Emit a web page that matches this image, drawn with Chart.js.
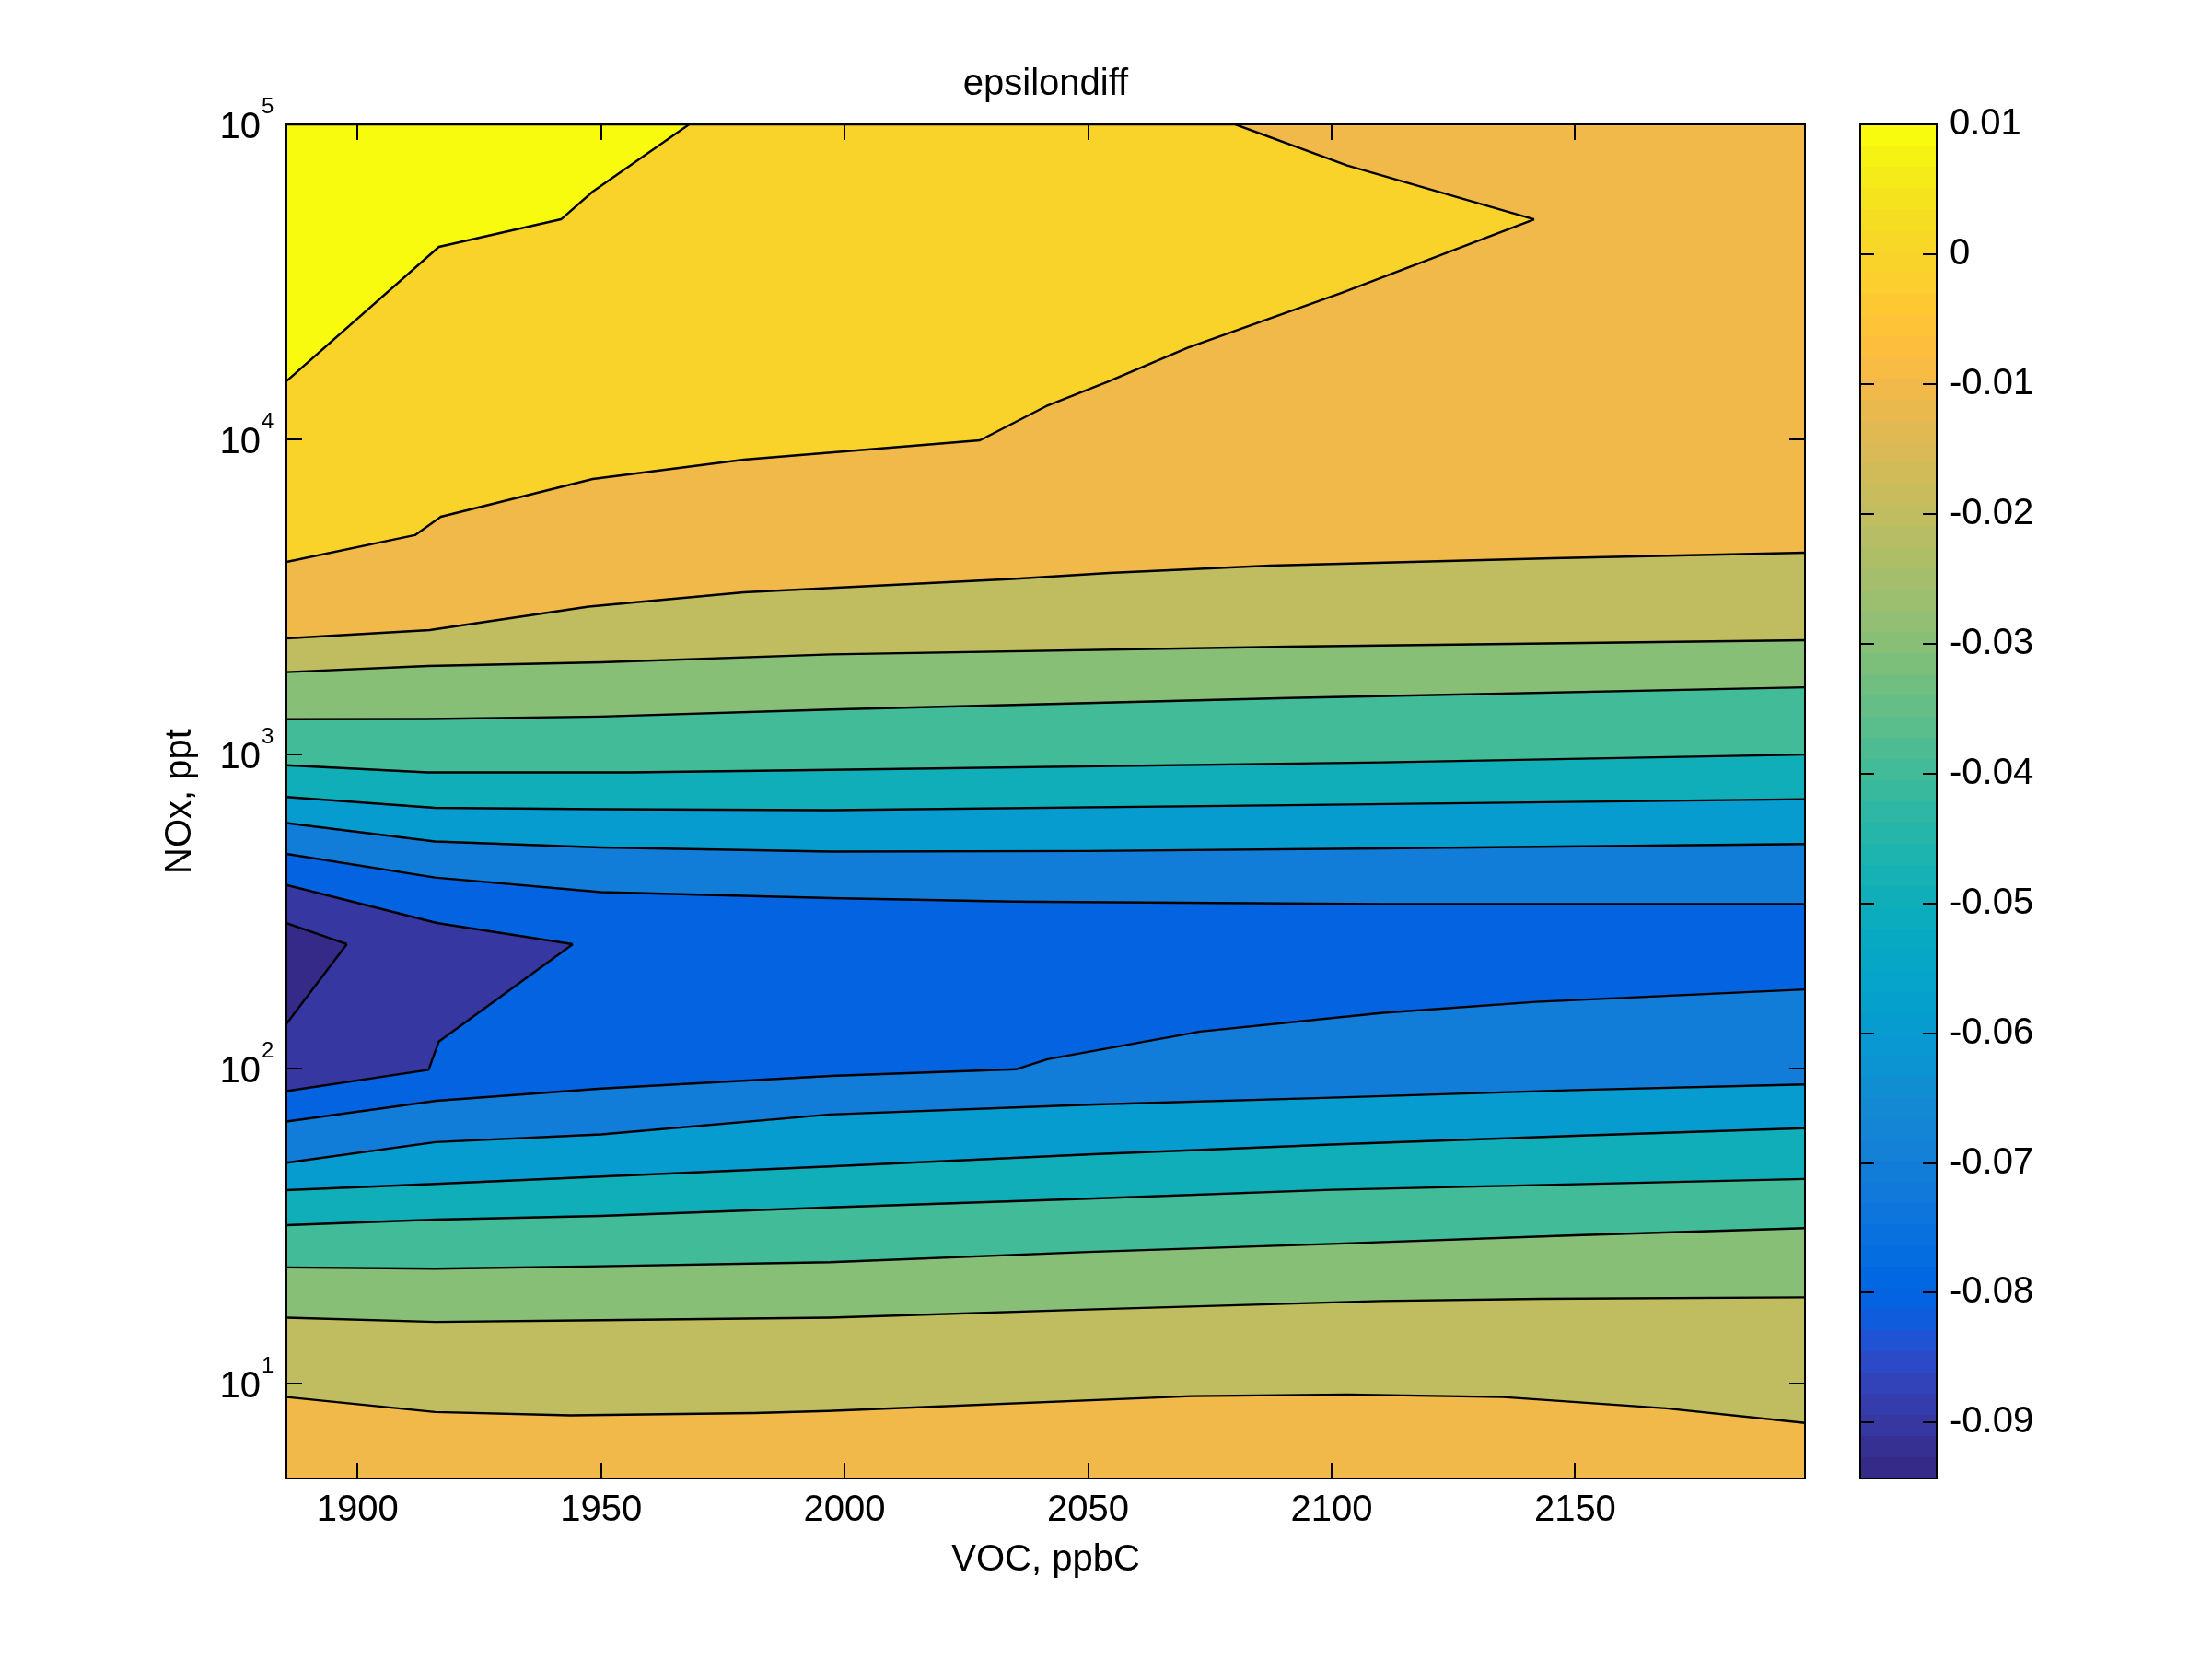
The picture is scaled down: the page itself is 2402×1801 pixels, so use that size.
<!DOCTYPE html>
<html>
<head>
<meta charset="utf-8">
<title>epsilondiff</title>
<script src="https://cdn.jsdelivr.net/npm/chart.js@4.4.1/dist/chart.umd.min.js"></script>
<style>
  html, body { margin: 0; padding: 0; background: #fff; overflow: hidden; }
  #wrap { position: relative; width: 2402px; height: 1801px; }
  #wrap canvas { position: absolute; left: 0; top: 0; }
</style>
</head>
<body>
<div id="wrap">
  <canvas id="contour" width="2402" height="1801"></canvas>
  <canvas id="colorbar" width="2402" height="1801"></canvas>
</div>
<script>
// axis ranges and tick labels
const vocRange = [1885.4, 2197.2];
const noxRange = [5, 100000];
const levelRange = [-0.0943, 0.01];
const vocTicks = [1900, 1950, 2000, 2050, 2100, 2150];
const noxTicks = [10, 100, 1000, 10000, 100000];
const levelTicks = [0.01, 0, -0.01, -0.02, -0.03, -0.04, -0.05, -0.06, -0.07, -0.08, -0.09];

// contour lines, [VOC ppbC, NOx ppt] (bottom to top)
const line1 = [[1885.4, 9.07], [1915.9, 8.13], [1943.7, 7.93], [1981.5, 8.07], [1996.6, 8.19], [2071.3, 9.13], [2103.2, 9.24], [2135.2, 9.07], [2168.7, 8.35], [2197.2, 7.5]];
const line2 = [[1885.4, 16.2], [1916, 15.7], [1950, 15.9], [1997, 16.2], [2050, 17.2], [2110, 18.3], [2143, 18.6], [2197.2, 18.8]];
const line3 = [[1885.4, 23.4], [1916, 23.2], [1950, 23.6], [1997, 24.3], [2050, 26.2], [2100, 27.8], [2150, 29.6], [2197.2, 31.2]];
const line4 = [[1885.4, 31.9], [1916, 33.2], [1950, 34.1], [1997, 36.3], [2050, 38.7], [2100, 41.3], [2150, 43.0], [2197.2, 44.7]];
const line5 = [[1885.4, 41.2], [1916, 43.1], [1950, 45.5], [1997, 49.0], [2050, 53.5], [2100, 57.5], [2150, 61.3], [2197.2, 64.8]];
const line6 = [[1885.4, 50.3], [1916, 58.5], [1950, 61.9], [1997, 71.6], [2050, 76.9], [2100, 81.0], [2150, 85.6], [2197.2, 89.2]];
const line7 = [[1885.4, 68.0], [1916.2, 79.2], [1950, 86.6], [1997.2, 95.0], [2035.2, 99.7], [2041.7, 107.3], [2073, 131.3], [2110.6, 150.7], [2142, 163.2], [2197.2, 178.7]];
const line8 = [[1885.4, 481.7], [1915.9, 405.3], [1950, 364], [1997.2, 348.6], [2034.5, 339.8], [2110.6, 333.7], [2197.2, 333.7]];
const line9 = [[1885.4, 603.8], [1915.9, 527.7], [1950, 505], [1997.2, 490], [2050, 492], [2110.6, 501.6], [2197.2, 518]];
const line10 = [[1885.4, 729.8], [1915.9, 674.8], [1950, 668], [1997.2, 663.1], [2091.2, 687.6], [2197.2, 718.4]];
const line11 = [[1885.4, 921], [1914.4, 874.6], [1955.9, 874.6], [1997.2, 890.7], [2110.6, 940.7], [2197.2, 996.1]];
const line12 = [[1885.4, 1290], [1914.4, 1292], [1950, 1315], [1997.2, 1384], [2091.2, 1507], [2197.2, 1629]];
const line13 = [[1885.4, 1821], [1914.4, 1904], [1950, 1956], [1997.2, 2073], [2091.2, 2194], [2197.2, 2299]];
const line14 = [[1885.4, 2331], [1914.8, 2476], [1947.5, 2940], [1979.3, 3264], [2034.5, 3599], [2054.3, 3760], [2087.4, 3968], [2145.4, 4188], [2197.2, 4362]];
const line15 = [[1885.4, 4076], [1911.8, 4958], [1917.1, 5671], [1948.3, 7473], [1979.3, 8613], [2027.8, 9920], [2041.4, 12730], [2054.3, 15270], [2070.4, 19490], [2102.1, 29150], [2141.6, 49950]];
const goldUpper = [[1885.4, 100000], [2080.2, 100000], [2103.2, 74060], [2141.6, 49950]];
const line16 = [[1885.4, 15270], [1916.7, 40820], [1941.8, 49950], [1948.3, 61150], [1968.1, 100000]];
const purpleUpper = [[1885.4, 383.7], [1916.3, 290.6], [1944.2, 248.9]];
const purpleLower = [[1885.4, 85.0], [1914.6, 99.3], [1916.7, 122.1], [1944.2, 248.9]];
const darkUpper = [[1885.4, 290.1], [1897.8, 248.9]];
const darkLower = [[1885.4, 139.0], [1897.8, 248.9]];

const FONT = '"Liberation Sans", Arial, Helvetica, sans-serif';
const TICK = 17;

// parula, 64 entries
const PARULA = [
  0.2081,0.1663,0.5292, 0.2116,0.1898,0.5777, 0.2123,0.2138,0.6270, 0.2081,0.2386,0.6771,
  0.1959,0.2645,0.7279, 0.1707,0.2919,0.7792, 0.1253,0.3242,0.8303, 0.0591,0.3598,0.8683,
  0.0117,0.3875,0.8820, 0.0060,0.4086,0.8828, 0.0165,0.4266,0.8786, 0.0329,0.4430,0.8720,
  0.0498,0.4586,0.8641, 0.0629,0.4737,0.8554, 0.0723,0.4887,0.8467, 0.0779,0.5040,0.8384,
  0.0793,0.5200,0.8312, 0.0749,0.5375,0.8263, 0.0641,0.5570,0.8240, 0.0488,0.5772,0.8228,
  0.0343,0.5966,0.8199, 0.0265,0.6137,0.8135, 0.0239,0.6287,0.8038, 0.0231,0.6418,0.7913,
  0.0228,0.6535,0.7768, 0.0267,0.6642,0.7607, 0.0384,0.6743,0.7436, 0.0590,0.6838,0.7254,
  0.0843,0.6928,0.7062, 0.1133,0.7015,0.6859, 0.1453,0.7098,0.6646, 0.1801,0.7177,0.6424,
  0.2178,0.7250,0.6193, 0.2586,0.7317,0.5954, 0.3022,0.7376,0.5712, 0.3482,0.7424,0.5473,
  0.3953,0.7459,0.5244, 0.4420,0.7481,0.5033, 0.4871,0.7491,0.4840, 0.5300,0.7491,0.4661,
  0.5709,0.7485,0.4494, 0.6099,0.7473,0.4337, 0.6473,0.7456,0.4188, 0.6834,0.7435,0.4044,
  0.7184,0.7411,0.3905, 0.7525,0.7384,0.3768, 0.7858,0.7356,0.3633, 0.8185,0.7327,0.3498,
  0.8507,0.7299,0.3360, 0.8824,0.7274,0.3217, 0.9139,0.7258,0.3063, 0.9450,0.7261,0.2886,
  0.9739,0.7314,0.2666, 0.9938,0.7455,0.2403, 0.9990,0.7653,0.2164, 0.9955,0.7861,0.1967,
  0.9880,0.8066,0.1794, 0.9789,0.8271,0.1633, 0.9697,0.8481,0.1475, 0.9626,0.8705,0.1309,
  0.9589,0.8949,0.1132, 0.9598,0.9218,0.0948, 0.9661,0.9514,0.0755, 0.9763,0.9831,0.0538
].reduce((out, v, i, arr) => {
  if (i % 3 === 0) out.push(`rgb(${Math.round(v * 255)},${Math.round(arr[i + 1] * 255)},${Math.round(arr[i + 2] * 255)})`);
  return out;
}, []);

function levelColor(v) {
  const t = (v - levelRange[0]) / (levelRange[1] - levelRange[0]);
  return PARULA[Math.max(0, Math.min(63, Math.floor(t * 64)))];
}

// filled bands in painting order, bottom first; level = lower bound of the band
const layers = [
  { id: 'c1', data: line1, fill: 'start', level: -0.01 },
  { id: 'c2', data: line2, fill: 'c1', level: -0.02 },
  { id: 'c3', data: line3, fill: 'c2', level: -0.03 },
  { id: 'c4', data: line4, fill: 'c3', level: -0.04 },
  { id: 'c5', data: line5, fill: 'c4', level: -0.05 },
  { id: 'c6', data: line6, fill: 'c5', level: -0.06 },
  { id: 'c7', data: line7, fill: 'c6', level: -0.07 },
  { id: 'c8', data: line8, fill: 'c7', level: -0.08 },
  { id: 'c9', data: line9, fill: 'c8', level: -0.07 },
  { id: 'c10', data: line10, fill: 'c9', level: -0.06 },
  { id: 'c11', data: line11, fill: 'c10', level: -0.05 },
  { id: 'c12', data: line12, fill: 'c11', level: -0.04 },
  { id: 'c13', data: line13, fill: 'c12', level: -0.03 },
  { id: 'c14', data: line14, fill: 'c13', level: -0.02 },
  { id: 'c14up', data: line14, fill: 'end', level: -0.01, stroke: 0 },
  { id: 'goldTop', data: goldUpper, fill: 'c15', level: 0 },
  { id: 'c15', data: line15 },
  { id: 'c16', data: line16, fill: 'end', level: 0.01 },
  { id: 'purpleTop', data: purpleUpper, fill: 'purpleBot', level: -0.09 },
  { id: 'purpleBot', data: purpleLower },
  { id: 'darkTop', data: darkUpper, fill: 'darkBot', level: levelRange[0] },
  { id: 'darkBot', data: darkLower }
];

// the filler paints the last dataset first, so reverse the list
const ordered = layers.slice().reverse();
const indexOf = {};
ordered.forEach((l, i) => { indexOf[l.id] = i; });

const datasets = ordered.map(l => ({
  label: l.id,
  data: l.data.map(([x, y]) => ({ x, y })),
  borderColor: '#000',
  borderWidth: l.stroke === undefined ? 2.4 : l.stroke,
  borderJoinStyle: 'round',
  backgroundColor: l.level === undefined ? 'transparent' : levelColor(l.level),
  fill: l.fill === undefined ? false : (l.fill in indexOf ? indexOf[l.fill] : l.fill),
  pointRadius: 0,
  tension: 0
}));

const contourFrame = {
  id: 'contourFrame',
  afterDraw(chart) {
    const { ctx, chartArea: a, scales: { x, y } } = chart;
    ctx.save();
    ctx.strokeStyle = '#000';
    ctx.lineWidth = 2;
    ctx.strokeRect(a.left, a.top, a.right - a.left, a.bottom - a.top);
    ctx.beginPath();
    x.ticks.forEach(t => {
      const px = Math.round(x.getPixelForValue(t.value));
      ctx.moveTo(px, a.bottom); ctx.lineTo(px, a.bottom - TICK);
      ctx.moveTo(px, a.top); ctx.lineTo(px, a.top + TICK);
    });
    y.ticks.forEach(t => {
      const py = Math.round(y.getPixelForValue(t.value));
      ctx.moveTo(a.left, py); ctx.lineTo(a.left + TICK, py);
      ctx.moveTo(a.right, py); ctx.lineTo(a.right - TICK, py);
    });
    ctx.stroke();
    ctx.fillStyle = '#000';
    y.ticks.forEach(t => {
      const py = y.getPixelForValue(t.value);
      const exp = Math.round(Math.log10(t.value));
      ctx.font = `40px ${FONT}`;
      ctx.textAlign = 'right';
      ctx.textBaseline = 'alphabetic';
      ctx.fillText('10', a.left - 28, py + 15);
      ctx.font = `24px ${FONT}`;
      ctx.textAlign = 'left';
      ctx.fillText(String(exp), a.left - 27, py - 12);
    });
    ctx.restore();
  }
};

new Chart(document.getElementById('contour'), {
  type: 'line',
  data: { datasets },
  options: {
    responsive: false,
    devicePixelRatio: 1,
    animation: false,
    events: [],
    layout: { padding: { left: 0, right: 442, top: 0, bottom: 0 } },
    plugins: {
      legend: { display: false },
      tooltip: { enabled: false },
      filler: { drawTime: 'beforeDatasetsDraw' },
      title: {
        display: true,
        text: 'epsilondiff',
        fullSize: false,
        color: '#000',
        font: { family: FONT, size: 40, weight: 'normal', lineHeight: 1 },
        padding: { top: 72, bottom: 23 }
      }
    },
    scales: {
      x: {
        type: 'linear',
        min: vocRange[0],
        max: vocRange[1],
        afterBuildTicks: s => { s.ticks = vocTicks.map(v => ({ value: v })); },
        afterFit: s => { s.height = 196; },
        grid: { display: false, drawTicks: false },
        border: { display: false },
        ticks: {
          color: '#000',
          font: { family: FONT, size: 40 },
          padding: 11,
          maxRotation: 0,
          autoSkip: false,
          callback: v => String(v)
        },
        title: {
          display: true,
          text: 'VOC, ppbC',
          color: '#000',
          font: { family: FONT, size: 40 },
          padding: { top: 0, bottom: 83 }
        }
      },
      y: {
        type: 'logarithmic',
        min: noxRange[0],
        max: noxRange[1],
        afterBuildTicks: s => { s.ticks = noxTicks.map(v => ({ value: v })); },
        afterFit: s => { s.width = 311; },
        grid: { display: false, drawTicks: false },
        border: { display: false },
        ticks: { display: false },
        title: {
          display: true,
          text: 'NOx, ppt',
          color: '#000',
          font: { family: FONT, size: 40 },
          padding: { top: 172, bottom: 0 }
        }
      }
    }
  },
  plugins: [contourFrame]
});

// colour bar
function parulaGradient(chart) {
  const a = chart.chartArea;
  if (!a) return PARULA[0];
  const g = chart.ctx.createLinearGradient(0, a.bottom, 0, a.top);
  const n = PARULA.length;
  PARULA.forEach((c, i) => {
    g.addColorStop(i / n, c);
    g.addColorStop((i + 1) / n, c);
  });
  return g;
}

const colorbarFrame = {
  id: 'colorbarFrame',
  afterDraw(chart) {
    const { ctx, chartArea: a, scales: { y } } = chart;
    ctx.save();
    ctx.strokeStyle = '#000';
    ctx.lineWidth = 2;
    ctx.strokeRect(a.left, a.top, a.right - a.left, a.bottom - a.top);
    ctx.beginPath();
    y.ticks.forEach(t => {
      const py = Math.round(y.getPixelForValue(t.value));
      ctx.moveTo(a.left, py); ctx.lineTo(a.left + 15, py);
      ctx.moveTo(a.right, py); ctx.lineTo(a.right - 15, py);
    });
    ctx.stroke();
    ctx.restore();
  }
};

new Chart(document.getElementById('colorbar'), {
  type: 'bar',
  data: {
    labels: ['epsilondiff'],
    datasets: [{
      data: [levelRange],
      backgroundColor: c => parulaGradient(c.chart),
      borderWidth: 0,
      barPercentage: 1,
      categoryPercentage: 1
    }]
  },
  options: {
    responsive: false,
    devicePixelRatio: 1,
    animation: false,
    events: [],
    layout: { padding: { left: 2020, right: 0, top: 135, bottom: 196 } },
    plugins: { legend: { display: false }, tooltip: { enabled: false } },
    scales: {
      x: { display: false },
      y: {
        type: 'linear',
        position: 'right',
        min: levelRange[0],
        max: levelRange[1],
        afterBuildTicks: s => { s.ticks = levelTicks.map(v => ({ value: v })); },
        afterFit: s => { s.width = 299; },
        grid: { display: false, drawTicks: false },
        border: { display: false },
        ticks: {
          color: '#000',
          font: { family: FONT, size: 40 },
          padding: 14,
          autoSkip: false,
          callback: v => {
            const r = Math.round(v * 100) / 100;
            return r === 0 ? '0' : String(r);
          }
        }
      }
    }
  },
  plugins: [colorbarFrame]
});
</script>
</body>
</html>
